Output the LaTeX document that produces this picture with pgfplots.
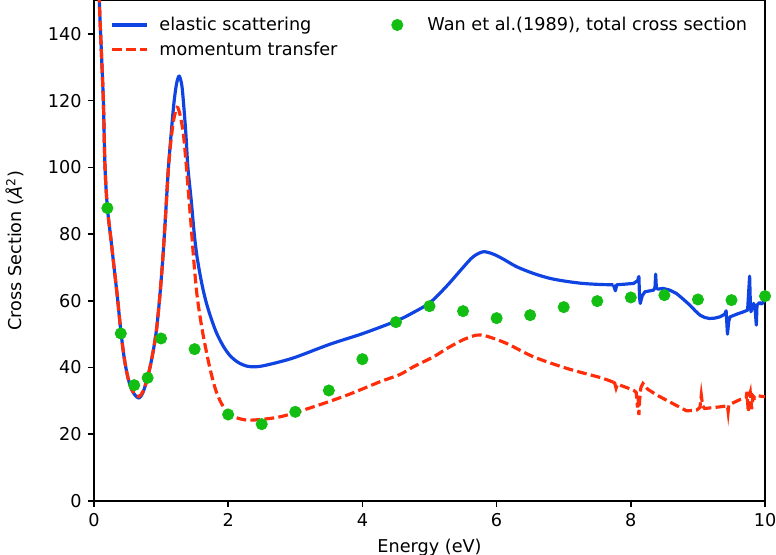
\documentclass[border=0pt]{standalone}
\usepackage{pgfplots}
\pgfplotsset{compat=1.18}
\usepackage{fontspec}
\setmainfont{DejaVu Sans}
\usetikzlibrary{calc}
\definecolor{elastic}{RGB}{16,68,226}
\definecolor{momentum}{RGB}{255,45,10}
\definecolor{wan}{RGB}{18,190,18}

\pgfplotsset{
  lineleg/.style={legend image code/.code={%
    \draw[##1] (0pt,0pt) -- (19.8pt,0pt);
    \path[draw=none, fill=none] (0pt,0pt) rectangle (25pt,0.1pt);}},
  dotleg/.style={legend image code/.code={%
    \draw[##1] plot coordinates {(9.9pt,0pt)};
    \path[draw=none, fill=none] (0pt,0pt) rectangle (25pt,0.1pt);}},
  elasticline/.style={elastic, line width=1.8pt, line join=round},
  momline/.style={momentum, line width=1.8pt, dash pattern=on 5.55pt off 2.4pt},
  wanmarks/.style={only marks, color=wan, mark=*, mark size=3.2pt,
    mark options={solid, line width=0.4pt}},
}

\pgfplotstableread{
x y
0.2 87.8
0.4 50.2
0.6 34.7
0.8 36.9
1.0 48.7
1.5 45.5
2.0 25.9
2.5 23.0
3.0 26.7
3.5 33.1
4.0 42.5
4.5 53.6
5.0 58.4
5.5 56.9
6.0 54.8
6.5 55.7
7.0 58.1
7.5 59.9
8.0 61.0
8.5 61.7
9.0 60.4
9.5 60.2
10.0 61.4
}\wandata

\begin{document}
\begin{tikzpicture}
\begin{axis}[
  name=ax,
  scale only axis,
  width=380pt, height=283.2pt,
  xmin=0, xmax=10, ymin=0, ymax=150,
  xtick={0,2,...,10}, ytick={0,20,...,140},
  tick align=outside, major tick length=3.5pt,
  tick style={line width=0.8pt, black},
  axis line style={line width=0.8pt},
  xtick pos=bottom, ytick pos=left,
  every tick label/.append style={font=\fontsize{10}{12}\selectfont},
  /pgf/number format/assume math mode=true,
  xlabel={Energy (eV)},
  ylabel={Cross Section ({\itshape Å}\textsuperscript{2})},
  label style={font=\fontsize{10}{12}\selectfont},
  ylabel style={yshift=6.5pt},
  legend columns=2,
  legend cell align=left,
  legend style={draw=none, fill=none, at={(0,1)}, anchor=north west,
    xshift=6pt, yshift=-5pt, font=\fontsize{10}{12}\selectfont,
    row sep=1pt,
    /tikz/every even column/.append style={column sep=22pt}},
]
% elastic scattering: smooth part, then the resonance structure above 7.7 eV
\addplot[elasticline, smooth, tension=0.5, forget plot] coordinates {
(0.065,165) (0.08,150) (0.11,135) (0.14,120) (0.165,100) (0.2,88) (0.25,79)
(0.30,70) (0.35,61) (0.40,51) (0.45,43) (0.50,37.5) (0.55,34) (0.60,32)
(0.67,30.8) (0.73,32.5) (0.80,37) (0.87,43.5) (0.93,51) (0.98,61) (1.02,71)
(1.05,80) (1.08,90) (1.11,100) (1.15,110) (1.19,119) (1.23,125) (1.27,127.4)
(1.31,124.5) (1.34,118) (1.37,110) (1.40,100) (1.45,90) (1.49,81) (1.53,74)
(1.58,68) (1.63,63) (1.68,59) (1.75,54.5) (1.83,50.2) (1.93,46.3) (2.03,43.5)
(2.15,41.5) (2.28,40.4) (2.40,40.2) (2.52,40.5) (2.77,41.7) (3.02,43.2)
(3.52,47.0) (4.01,50.2) (4.51,54.0) (4.76,56.5) (5.01,59.5) (5.26,64.5)
(5.5,70) (5.65,73.2) (5.80,74.7) (5.95,74.0) (6.1,72.5) (6.30,70.2)
(6.55,68.2) (6.80,66.7) (7.05,65.8) (7.29,65.2) (7.54,64.9) (7.74,64.8)
};
\addplot[elasticline, forget plot] coordinates {
(7.74,64.8) (7.77,63.0) (7.79,64.8) (8.04,65.2) (8.10,66.0) (8.12,67.3)
(8.13,61) (8.14,59.2) (8.17,61.5) (8.21,62.7) (8.34,63.2) (8.36,64)
(8.37,68) (8.38,64) (8.40,63.5) (8.48,63.7) (8.58,63.2) (8.68,62.2)
(8.78,60.5) (8.88,58.7) (8.96,57) (9.03,55.7) (9.10,55) (9.17,54.7)
(9.25,54.8) (9.33,55.2) (9.40,56) (9.42,57) (9.44,50) (9.46,54)
(9.48,55.2) (9.58,56) (9.68,56.7) (9.74,57.2) (9.77,67.4) (9.78,60)
(9.79,56.7) (9.83,59.2) (9.85,58) (9.87,52.7) (9.88,58.7) (9.92,59.5)
(9.95,59) (10,60.2)
};
% momentum transfer
\addplot[momline, smooth, tension=0.5, forget plot] coordinates {
(0.065,165) (0.08,150) (0.11,135) (0.14,120) (0.165,100) (0.2,88) (0.25,79)
(0.30,70) (0.35,61) (0.40,51) (0.45,43) (0.50,37.5) (0.55,34) (0.60,32.2)
(0.67,31.3) (0.73,32.8) (0.80,37) (0.87,43.5) (0.93,51) (0.98,61) (1.02,71)
(1.05,80) (1.08,90) (1.11,100) (1.15,108.5) (1.19,114.5) (1.24,118)
(1.28,116) (1.33,110.5) (1.37,102) (1.41,92) (1.45,82) (1.49,71.5) (1.54,61)
(1.62,50.5) (1.72,40.5) (1.81,33.5) (1.90,29.2) (2.0,26.5) (2.1,25.1)
(2.32,24.2) (2.77,25.2) (3.27,28.2) (3.77,31.7) (4.26,35.7) (4.56,37.9)
(4.76,40.2) (5.06,43.2) (5.26,45.7) (5.5,48.3) (5.70,49.7) (5.85,49.4)
(6.15,47.2) (6.55,43.2) (7.05,39.7) (7.54,37.0) (7.74,35.6)
};
\addplot[momline, forget plot] coordinates {
(7.74,35.6) (7.76,35.3) (7.78,33.8) (7.80,35.0) (8.04,33.2) (8.08,32.5)
(8.10,28) (8.11,31) (8.12,25.7) (8.13,30) (8.15,34) (8.18,35.2)
(8.25,33.5) (8.39,31.7) (8.53,30.2) (8.83,27.0) (8.98,27.2) (9.03,28)
(9.05,31.7) (9.07,28.5) (9.10,27.7) (9.33,28.2) (9.44,28.5) (9.45,26.8)
(9.46,28.8) (9.63,30.4) (9.72,31) (9.73,32.7) (9.75,26.7) (9.76,31)
(9.78,32.5) (9.80,27.5) (9.82,31.5) (9.85,30.8) (9.90,31.5) (10,31.2)
};
% measured total cross section
\addplot[wanmarks, forget plot] table[x=x, y=y] {\wandata};

\addlegendimage{elasticline, lineleg}
\addlegendentry{elastic scattering}
\addlegendimage{wanmarks, dotleg}
\addlegendentry{Wan et al.(1989), total cross section}
\addlegendimage{momline, lineleg}
\addlegendentry{momentum transfer}
\end{axis}
\pgfresetboundingbox
\path ($(ax.south west)+(-53.2pt,-30.6pt)$) rectangle ($(ax.north east)+(6.2pt,0.4pt)$);
\end{tikzpicture}
\end{document}
